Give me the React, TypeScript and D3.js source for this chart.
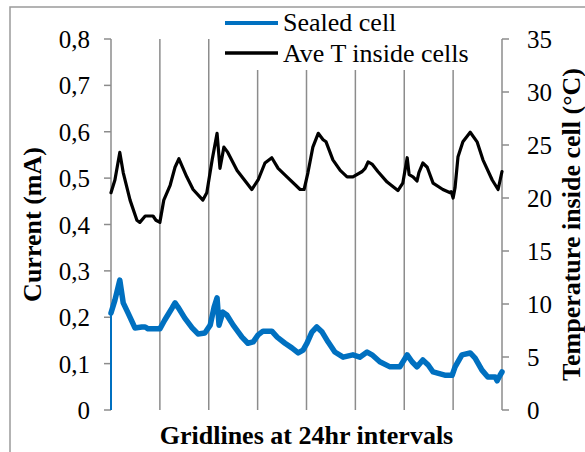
import React from "react";
import * as d3 from "d3";

// Time in days (gridlines every 24 h)
const tempDays = [0.00,0.08,0.18,0.25,0.39,0.53,0.59,0.70,0.86,0.92,1.00,1.08,1.21,1.31,1.39,1.55,1.68,1.88,1.96,2.07,2.17,2.23,2.31,2.39,2.58,2.88,3.01,3.15,3.29,3.42,3.60,3.87,3.95,4.03,4.13,4.24,4.34,4.40,4.54,4.69,4.83,4.95,5.14,5.20,5.26,5.34,5.46,5.65,5.87,5.97,6.06,6.10,6.18,6.26,6.30,6.38,6.47,6.59,6.79,6.94,6.96,7.00,7.04,7.10,7.20,7.35,7.49,7.61,7.80,7.92,8.00];
const tempValues = [20.5,21.7,24.3,22.4,19.8,17.9,17.7,18.3,18.3,17.9,17.7,19.8,21.2,22.9,23.7,22.0,20.8,19.8,20.5,23.6,26.1,22.8,24.8,24.3,22.6,20.8,21.7,23.3,23.8,22.8,22.0,20.8,20.8,22.4,24.8,26.1,25.5,25.3,23.6,22.6,22.0,22.0,22.5,22.8,23.4,23.2,22.5,21.5,20.7,21.4,23.8,22.2,22.0,21.6,22.4,23.3,22.9,21.4,20.8,20.5,20.6,20.0,21.0,23.9,25.3,26.2,25.3,23.6,21.7,20.8,22.5];

const currentDays = [0,0,0.08,0.18,0.25,0.35,0.49,0.63,0.70,0.76,0.90,1.00,1.10,1.25,1.31,1.37,1.51,1.66,1.78,1.92,2.03,2.11,2.17,2.21,2.29,2.37,2.50,2.68,2.80,2.91,3.01,3.11,3.29,3.40,3.56,3.70,3.83,3.93,4.01,4.11,4.21,4.32,4.44,4.58,4.75,4.95,5.09,5.24,5.34,5.50,5.71,5.91,6.06,6.16,6.26,6.38,6.49,6.59,6.83,6.98,7.04,7.18,7.35,7.45,7.59,7.71,7.86,7.90,7.96,8.00];
const currentValues = [0,0.209,0.237,0.280,0.231,0.209,0.177,0.179,0.179,0.175,0.175,0.175,0.194,0.220,0.231,0.222,0.198,0.177,0.164,0.166,0.183,0.222,0.242,0.183,0.211,0.205,0.183,0.157,0.144,0.147,0.162,0.170,0.170,0.157,0.144,0.134,0.123,0.129,0.144,0.168,0.179,0.168,0.147,0.125,0.114,0.119,0.114,0.125,0.119,0.104,0.093,0.093,0.119,0.104,0.093,0.108,0.097,0.082,0.075,0.075,0.093,0.119,0.123,0.112,0.086,0.071,0.071,0.063,0.075,0.082];

const currentTicks = [0, 0.1, 0.2, 0.3, 0.4, 0.5, 0.6, 0.7, 0.8];
const tempTicks = [0, 5, 10, 15, 20, 25, 30, 35];
const gridDays = [1, 2, 3, 4, 5, 6, 7];

const seriesNames = ["Sealed cell", "Ave T inside cells"];
const yLeftTitle = "Current (mA)";
const yRightTitle = "Temperature inside cell (°C)";
const xTitle = "Gridlines at 24hr intervals";

const W = 585, H = 452;
const plot = { left: 111, right: 502, top: 39, bottom: 410 };
const BLUE = "#0070C0";
const GRAY = "#8c8c8c";
const FONT = "Liberation Serif, DejaVu Serif, serif";

export default function App() {
  const x = d3.scaleLinear().domain([0, 8]).range([plot.left, plot.right]);
  const yI = d3.scaleLinear().domain([0, 0.8]).range([plot.bottom, plot.top]);
  const yT = d3.scaleLinear().domain([0, 35]).range([plot.bottom, plot.top]);

  const currentPts: [number, number][] = currentDays.map((d, i) => [d, currentValues[i]]);
  const tempPts: [number, number][] = tempDays.map((d, i) => [d, tempValues[i]]);

  const currentLine = d3.line<[number, number]>()
    .x((p) => x(p[0]))
    .y((p) => yI(p[1]));
  const tempLine = d3.line<[number, number]>()
    .x((p) => x(p[0]))
    .y((p) => yT(p[1]));

  const fmt = (v: number) => (v === 0 ? "0" : d3.format(".1f")(v).replace(".", ","));
  const cy = (plot.top + plot.bottom) / 2;
  const ts = { fontFamily: FONT };

  return (
    <svg width={W} height={H} style={{ position: "absolute", left: 0, top: 0, background: "#fff", fontFamily: FONT }}>
      <rect x={10} y={7} width={700} height={600} fill="#fff" stroke="#9a9a9a" strokeWidth={1.5} />
      {gridDays.map((d) => (
        <line key={d} x1={x(d)} x2={x(d)} y1={plot.top} y2={plot.bottom} stroke={GRAY} strokeWidth={1.5} />
      ))}
      <line x1={plot.left} x2={plot.left} y1={plot.top} y2={plot.bottom} stroke={GRAY} strokeWidth={1.5} />
      {currentTicks.map((t) => (
        <g key={t}>
          <line x1={plot.left - 7} x2={plot.left} y1={yI(t)} y2={yI(t)} stroke={GRAY} strokeWidth={1.5} />
          <text x={90} y={yI(t) + 9} textAnchor="end" fontSize={25} fill="#000" style={ts}>{fmt(t)}</text>
        </g>
      ))}
      <line x1={plot.right} x2={plot.right} y1={plot.top} y2={plot.bottom} stroke={GRAY} strokeWidth={1.5} />
      {tempTicks.map((t) => (
        <g key={t}>
          <line x1={plot.right} x2={plot.right + 7} y1={yT(t)} y2={yT(t)} stroke={GRAY} strokeWidth={1.5} />
          <text x={527} y={yT(t) + 9} textAnchor="start" fontSize={25} fill="#000" style={ts}>{t}</text>
        </g>
      ))}
      <rect x={218} y={8} width={262} height={62} fill="#fff" />
      <line x1={225} x2={278} y1={23} y2={23} stroke={BLUE} strokeWidth={4} />
      <text x={283} y={31} fontSize={26} fill="#000" style={ts}>{seriesNames[0]}</text>
      <line x1={225} x2={278} y1={53} y2={53} stroke="#000" strokeWidth={3.5} />
      <text x={283} y={62} fontSize={26} fill="#000" style={ts}>{seriesNames[1]}</text>
      <path d={tempLine(tempPts) || ""} fill="none" stroke="#000" strokeWidth={3.2} strokeLinejoin="round" strokeLinecap="round" />
      <path d={currentLine(currentPts.slice(0, 2)) || ""} fill="none" stroke={BLUE} strokeWidth={2} />
      <path d={currentLine(currentPts.slice(1)) || ""} fill="none" stroke={BLUE} strokeWidth={5.5} strokeLinejoin="round" strokeLinecap="round" />
      <text transform={`translate(41,${cy}) rotate(-90)`} textAnchor="middle" fontSize={26} fontWeight="bold" fill="#000" style={ts}>{yLeftTitle}</text>
      <text transform={`translate(580,${cy}) rotate(-90)`} textAnchor="middle" fontSize={26} fontWeight="bold" fill="#000" style={ts}>{yRightTitle}</text>
      <text x={(plot.left + plot.right) / 2} y={444} textAnchor="middle" fontSize={26} fontWeight="bold" fill="#000" style={ts}>{xTitle}</text>
    </svg>
  );
}
